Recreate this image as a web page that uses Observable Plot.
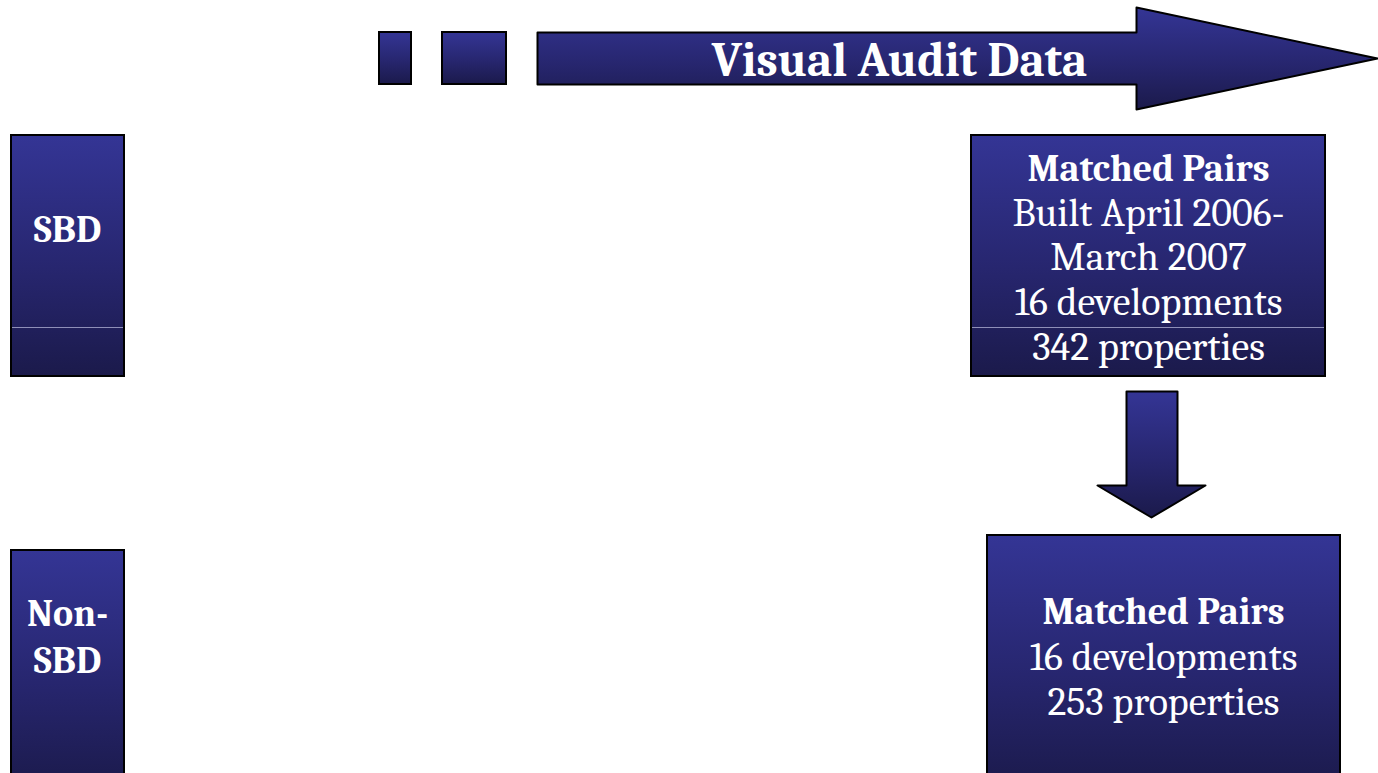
<!DOCTYPE html>
<html>
<head>
<meta charset="utf-8">
<script src="https://cdn.jsdelivr.net/npm/d3@7"></script>
<script src="https://cdn.jsdelivr.net/npm/@observablehq/plot@0.6"></script>
<style>
  html, body { margin: 0; padding: 0; background: #ffffff; overflow: hidden; }
  #chart svg { display: block; }
</style>
</head>
<body>
<div id="chart"></div>
<script>
// ---- Content ----
const titleText = ["Visual Audit Data"];
const rowLabels = ["SBD", "Non-\nSBD"];
const topBoxLines = ["Matched Pairs", "Built April 2006-", "March 2007", "16 developments", "342 properties"];
const topBoxBold = [true, false, false, false, false];
const bottomBoxLines = ["Matched Pairs", "16 developments", "253 properties"];
const bottomBoxBold = [true, false, false];

// ---- Diagram layout (pixel coordinates of the slide) ----
const boxX1 = [11, 971, 11, 987, 379, 442];
const boxX2 = [124, 1325, 124, 1340, 411, 506];
const boxY1 = [135, 135, 550, 535, 32, 32];
const boxY2 = [376, 376, 790, 790, 84, 84];
const dividerX1 = [12, 972];
const dividerX2 = [123, 1324];
const dividerY = [327, 327];
const rightArrowX = [537, 1136, 1136, 1377, 1136, 1136, 537, 537];
const rightArrowY = [32, 32, 7, 58, 109, 84, 84, 32];
const downArrowX = [1126, 1177, 1177, 1205, 1151, 1097, 1126, 1126];
const downArrowY = [391, 391, 485, 485, 517, 485, 485, 391];

const boxes = boxX1.map((x1, i) => ({x1, x2: boxX2[i], y1: boxY1[i], y2: boxY2[i]}));
const dividers = dividerX1.map((x1, i) => ({x1, x2: dividerX2[i], y: dividerY[i]}));
const rightArrow = rightArrowX.map((x, i) => ({x, y: rightArrowY[i]}));
const downArrow = downArrowX.map((x, i) => ({x, y: downArrowY[i]}));

const rowLabelData = rowLabels.map((t, i) => ({t, x: 67, y: [226, 634][i]}));
const topLineY = [168, 213, 257, 302, 347];
const topData = topBoxLines.map((t, i) => ({t, bold: topBoxBold[i], x: 1148, y: topLineY[i]}));
const bottomLineY = [611, 657, 702];
const bottomData = bottomBoxLines.map((t, i) => ({t, bold: bottomBoxBold[i], x: 1163, y: bottomLineY[i]}));
const boxText = topData.concat(bottomData);

const FONT = "Cambria, 'DejaVu Serif', serif";
const GRAD = "url(#navyGrad)";

const plot = Plot.plot({
  width: 1378,
  height: 773,
  margin: 0,
  x: {domain: [0, 1378], range: [0, 1378], axis: null},
  y: {domain: [0, 773], range: [0, 773], axis: null},
  style: {background: "#ffffff", fontFamily: FONT, overflow: "hidden"},
  marks: [
    Plot.rect(boxes, {x1: "x1", x2: "x2", y1: "y1", y2: "y2", fill: GRAD, stroke: "#000000", strokeWidth: 2}),
    Plot.ruleY(dividers, {x1: "x1", x2: "x2", y: "y", stroke: "#8f8fb8", strokeWidth: 1}),
    Plot.line(rightArrow, {x: "x", y: "y", fill: GRAD, stroke: "#000000", strokeWidth: 2, curve: "linear-closed"}),
    Plot.line(downArrow, {x: "x", y: "y", fill: GRAD, stroke: "#000000", strokeWidth: 2, curve: "linear-closed"}),
    Plot.text(titleText, {x: 899, y: 60, text: d => d, fill: "#ffffff", fontSize: 48, fontWeight: "bold", fontFamily: FONT}),
    Plot.text(rowLabelData, {x: "x", y: "y", text: "t", fill: "#ffffff", fontSize: 38, fontWeight: "bold", fontFamily: FONT, lineHeight: 1.24}),
    Plot.text(boxText.filter(d => d.bold), {x: "x", y: "y", text: "t", fill: "#ffffff", fontSize: 38, fontWeight: "bold", fontFamily: FONT}),
    Plot.text(boxText.filter(d => !d.bold), {x: "x", y: "y", text: "t", fill: "#ffffff", fontSize: 40, fontWeight: "normal", fontFamily: FONT})
  ]
});

// gradient definition used by the filled marks
const svg = d3.select(plot);
const defs = svg.insert("defs", ":first-child");
const g = defs.append("linearGradient").attr("id", "navyGrad")
  .attr("x1", 0).attr("y1", 0).attr("x2", 0).attr("y2", 1);
g.append("stop").attr("offset", "0%").attr("stop-color", "#343595");
g.append("stop").attr("offset", "55%").attr("stop-color", "#27266f");
g.append("stop").attr("offset", "100%").attr("stop-color", "#1b1a4b");

document.getElementById("chart").appendChild(plot);
</script>
</body>
</html>
